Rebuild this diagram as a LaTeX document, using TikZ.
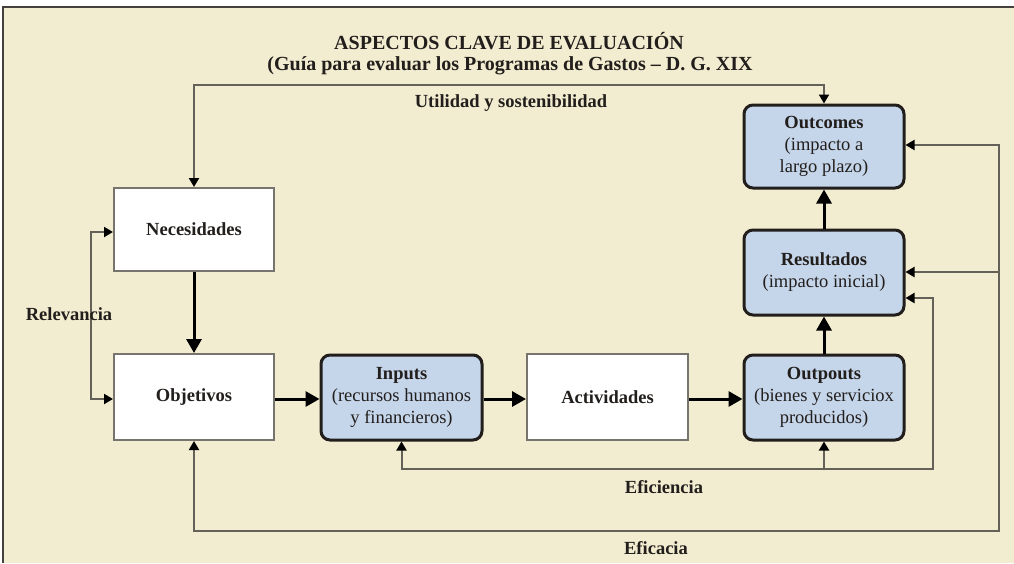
\documentclass[tikz,border=0pt]{standalone}
\usepackage{fontspec}
\setmainfont{Liberation Serif}
\usetikzlibrary{arrows.meta}
\definecolor{bg}{RGB}{242,236,208}
\definecolor{bluefill}{RGB}{197,213,234}
\definecolor{txt}{RGB}{34,30,28}
\definecolor{thinline}{RGB}{100,98,88}
\definecolor{whiteedge}{RGB}{118,116,108}
\tikzset{
  bluebox/.style={draw=txt, line width=3pt, fill=bluefill, rounded corners=9pt,
    minimum width=160pt, align=center, inner sep=2pt, text=txt,
    font=\fontsize{18.5}{22}\selectfont},
  whitebox/.style={draw=whiteedge, line width=2pt, fill=white,
    minimum width=160pt, align=center, inner sep=2pt, text=txt,
    font=\fontsize{18.5}{22}\selectfont\bfseries},
  thick arrow/.style={line width=3pt, draw=black, -{Triangle[length=14pt,width=15pt]}},
  thin conn/.style={line width=2pt, draw=thinline},
  thintip/.tip={Triangle[length=9pt,width=10pt,color=black]},
  lbl/.style={text=txt, font=\fontsize{18.5}{22}\selectfont\bfseries},
  ttl/.style={text=txt, font=\fontsize{20}{24}\selectfont\bfseries}
}
\begin{document}
\begin{tikzpicture}[x=1pt,y=-1pt]
\useasboundingbox (0,0) rectangle (1014,563);
\fill[white] (0,0) rectangle (1014,563);
\fill[bg] (3,7) rectangle (1014,563);
\draw[line width=2pt, draw=txt!85] (3,563) -- (3,7) -- (1014,7);

% title
\node[ttl] (t1) at (509,41) {ASPECTOS CLAVE DE EVALUACIÓN};
\node[ttl] (t2) at (510,66) {(Guía para evaluar los Programas de Gastos – D. G. XIX};

% boxes
\node[bluebox, minimum height=83pt] (outc) at (824,146.5) {\textbf{Outcomes}\\(impacto a\\largo plazo)};
\node[bluebox, minimum height=85pt] (res) at (824,272.5) {\textbf{Resultados}\\(impacto inicial)};
\node[bluebox, minimum height=85pt] (outp) at (824,397.5) {\textbf{Outpouts}\\(bienes y serviciox\\producidos)};
\node[whitebox, minimum height=83pt] (nec) at (194,229.5) {Necesidades};
\node[whitebox, minimum height=86pt] (obj) at (194,397) {Objetivos};
\node[bluebox, minimum height=85pt, minimum width=161pt] (inp) at (401.5,397.5) {\textbf{Inputs}\\(recursos humanos\\y financieros)};
\node[whitebox, minimum height=86pt, minimum width=161pt] (act) at (607.5,397) {Actividades};

% coordinates for connectors
\coordinate (topy) at (0,85);
\coordinate (relx) at (90.5,0);
\coordinate (effy) at (0,469);
\coordinate (effx) at (933,0);
\coordinate (effup) at (0,298);
\coordinate (efcy) at (0,531);
\coordinate (efcx) at (999,0);
\coordinate (efcout) at (0,145);
\coordinate (efcres) at (0,272);
\coordinate (relN) at (0,232);
\coordinate (relO) at (0,399);

% thin connectors
\draw[thin conn, {thintip}-{thintip}] (nec.north) -- (nec.north |- topy) -- (outc.north |- topy) -- (outc.north);
\draw[thin conn, {thintip}-{thintip}] (nec.west |- relN) -- (relx |- relN) -- (relx |- relO) -- (obj.west |- relO);
\draw[thin conn, {thintip}-{thintip}] (inp.south) -- (inp.south |- effy) -- (effx |- effy) -- (effx |- effup) -- (res.east |- effup);
\draw[thin conn, -{thintip}] (outp.south |- effy) -- (outp.south);
\draw[thin conn, {thintip}-{thintip}] (obj.south) -- (obj.south |- efcy) -- (efcx |- efcy) -- (efcx |- efcout) -- (outc.east |- efcout);
\draw[thin conn, -{thintip}] (efcx |- efcres) -- (res.east |- efcres);

% thick arrows
\draw[thick arrow] (nec.south) -- (obj.north);
\draw[thick arrow] (obj.east |- relO) -- (inp.west |- relO);
\draw[thick arrow] (inp.east |- relO) -- (act.west |- relO);
\draw[thick arrow] (act.east |- relO) -- (outp.west |- relO);
\draw[thick arrow] (outp.north) -- (res.south);
\draw[thick arrow] (res.north) -- (outc.south);

% labels
\node[lbl] (lrel) at (69,314) {Relevancia};
\node[lbl] (luti) at (511,103) {Utilidad y sostenibilidad};
\node[lbl] (leff) at (664,487) {Eficiencia};
\node[lbl] (lefc) at (656,548) {Eficacia};
\end{tikzpicture}
\end{document}
